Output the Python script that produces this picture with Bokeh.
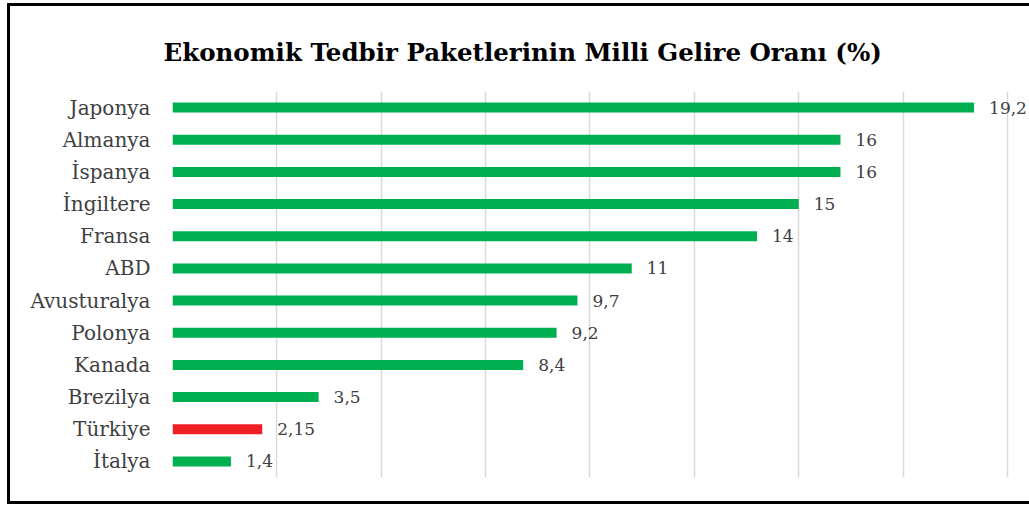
from bokeh.plotting import figure
from bokeh.models import ColumnDataSource, FixedTicker, Range1d, FactorRange
from bokeh.core.properties import value
from bokeh.embed import file_html
from bokeh.resources import INLINE

countries = ["Japonya", "Almanya", "İspanya", "İngiltere", "Fransa", "ABD",
             "Avusturalya", "Polonya", "Kanada", "Brezilya", "Türkiye", "İtalya"]
values = [19.2, 16, 16, 15, 14, 11, 9.7, 9.2, 8.4, 3.5, 2.15, 1.4]
labels = ["19,2", "16", "16", "15", "14", "11", "9,7", "9,2", "8,4", "3,5", "2,15", "1,4"]
colors = ["#00B050"] * 10 + ["#EE2026"] + ["#00B050"]
grid_ticks = [0, 2.5, 5, 7.5, 10, 12.5, 15, 17.5, 20]
title_text = "Ekonomik Tedbir Paketlerinin Milli Gelire Oranı (%)"

src = ColumnDataSource(dict(country=countries, val=values, lab=labels, col=colors))

p = figure(width=1022, height=501, output_backend="svg", toolbar_location=None,
           y_range=FactorRange(*list(reversed(countries)), range_padding=0),
           x_range=Range1d(0, 20.48),
           min_border_left=162, min_border_right=5, min_border_top=85, min_border_bottom=30,
           title=title_text)
p.styles = {"border-left": "3px solid black", "border-top": "3px solid black",
            "border-bottom": "3px solid black", "margin-left": "7px", "margin-top": "3px"}

p.title.text_font = "DejaVu Serif"
p.title.text_font_style = "bold"
p.title.text_font_size = "24.5px"
p.title.align = "left"
p.title.offset = -9
p.title.text_color = "black"
p.title.vertical_align = "top"
p.title.standoff = 46

p.hbar(y="country", right="val", left=0, height=0.31, fill_color="col",
       line_color=None, source=src)
p.text(x="val", y="country", text="lab", source=src, x_offset=15,
       text_baseline="middle", text_font=value("DejaVu Serif"),
       text_font_size="17px", text_color="#404040")

p.xaxis.visible = False
p.yaxis.axis_line_color = None
p.yaxis.major_tick_line_color = None
p.yaxis.minor_tick_line_color = None
p.yaxis.major_tick_out = 0
p.yaxis.major_tick_in = 0
p.yaxis.major_label_text_font = "DejaVu Serif"
p.yaxis.major_label_text_font_size = "20px"
p.yaxis.major_label_text_color = "#404040"
p.yaxis.major_label_standoff = 22

p.xaxis.ticker = FixedTicker(ticks=grid_ticks)
p.xgrid.grid_line_color = "#d9d9d9"
p.xgrid.grid_line_width = 1.5
p.ygrid.grid_line_color = None
p.outline_line_color = None

open("out.html", "w").write(file_html(p, INLINE))
